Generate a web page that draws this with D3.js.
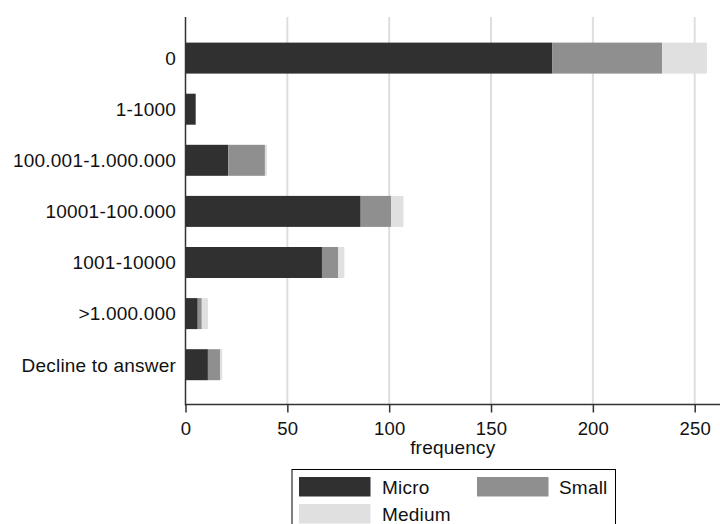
<!DOCTYPE html>
<html><head><meta charset="utf-8">
<script src="https://cdn.jsdelivr.net/npm/d3@7"></script>
<style>body{margin:0;background:#fff}svg{display:block}text{font-family:"Liberation Sans",Arial,sans-serif;fill:#111;letter-spacing:0.2px}</style>
</head><body>
<script>
const categories = ["0","1-1000","100.001-1.000.000","10001-100.000","1001-10000",">1.000.000","Decline to answer"];
const micro  = [180, 5, 21, 86, 67, 6, 11];
const small  = [54, 0, 18, 15, 8, 2, 6];
const medium = [22, 0, 1, 6, 3, 3, 1];
const seriesNames = ["Micro","Small","Medium"];
const colors = ["#303030","#8f8f8f","#e0e0e0"];
const xTicks = [0,50,100,150,200,250];

const W=720,H=524, FS=19;
const svg=d3.select("body").append("svg").attr("width",W).attr("height",H);
const x=d3.scaleLinear().domain([0,250]).range([185.5,694.7]);
const y=d3.scalePoint().domain(categories).range([58.1,364.7]);
const barH=31, plotTop=17, plotBottom=404.5, plotRight=720;

const data=categories.map((c,i)=>({cat:c,Micro:micro[i],Small:small[i],Medium:medium[i]}));
const stacked=d3.stack().keys(seriesNames)(data);

// gridlines
svg.append("g").selectAll("line").data(xTicks.slice(1)).join("line")
  .attr("x1",d=>x(d)).attr("x2",d=>x(d)).attr("y1",plotTop).attr("y2",plotBottom)
  .attr("stroke","#dedede").attr("stroke-width",2);

// bars
stacked.forEach((s,k)=>{
  svg.append("g").selectAll("rect").data(s).join("rect")
    .attr("x",d=>x(d[0])).attr("width",d=>Math.max(0,x(d[1])-x(d[0])))
    .attr("y",d=>y(d.data.cat)-barH/2).attr("height",barH)
    .attr("fill",colors[k]);
});

// left axis line
svg.append("line").attr("x1",185.5).attr("x2",185.5).attr("y1",plotTop).attr("y2",plotBottom+1)
  .attr("stroke","#333").attr("stroke-width",1.5);
// category labels
svg.append("g").selectAll("text").data(categories).join("text")
  .attr("x",176).attr("y",d=>y(d)).attr("dy","0.36em").attr("text-anchor","end")
  .attr("font-size",FS).text(d=>d);

// bottom axis
const xa=d3.axisBottom(x).tickValues(xTicks).tickSize(8).tickFormat(d3.format("d"));
const ag=svg.append("g").attr("transform",`translate(0,${plotBottom})`).call(xa);
ag.select(".domain").remove();
ag.selectAll(".tick line").attr("stroke","#333").attr("stroke-width",1.5);
ag.selectAll(".tick text").attr("font-size",18.5).attr("fill","#111").attr("y",30.5).attr("dy",null)
  .style("font-family","'Liberation Sans',Arial,sans-serif");
svg.append("line").attr("x1",185).attr("x2",plotRight).attr("y1",plotBottom).attr("y2",plotBottom)
  .attr("stroke","#333").attr("stroke-width",1.5);
svg.append("text").attr("x",(185.5+plotRight)/2).attr("y",454).attr("text-anchor","middle")
  .attr("font-size",FS).text("frequency");

// legend
const lg=svg.append("g");
lg.append("rect").attr("x",292).attr("y",469.5).attr("width",323.5).attr("height",70)
  .attr("fill","#fff").attr("stroke","#000").attr("stroke-width",1);
const lpos=[{x:299,y:477,tx:382,ty:494.3},{x:477,y:477,tx:559,ty:494.3},{x:299,y:504,tx:382,ty:521.3}];
seriesNames.forEach((n,i)=>{
  const p=lpos[i];
  lg.append("rect").attr("x",p.x).attr("y",p.y).attr("width",71.5).attr("height",19.5).attr("fill",colors[i]);
  lg.append("text").attr("x",p.tx).attr("y",p.ty).attr("font-size",FS).text(n);
});
</script>
</body></html>
